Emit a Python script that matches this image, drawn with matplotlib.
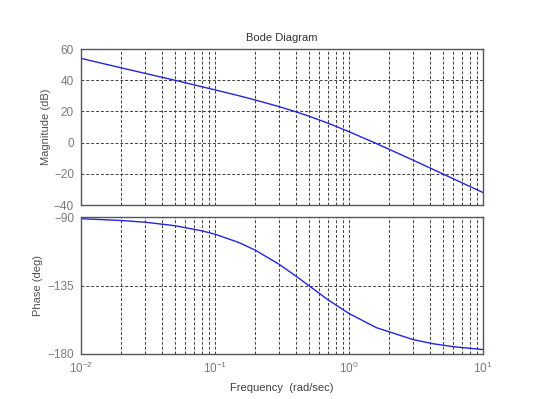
import numpy as np
import matplotlib.pyplot as plt

plt.rcParams['font.family'] = ['Liberation Sans', 'DejaVu Sans']
plt.rcParams['mathtext.fontset'] = 'custom'
plt.rcParams['mathtext.rm'] = 'Liberation Sans'

# frequency points (rad/sec) and values
freq = [0.01, 0.02, 0.03, 0.05, 0.08, 0.1, 0.15, 0.2, 0.3, 0.4, 0.5,
        0.7, 1.0, 1.6, 3.0, 4.2, 6.0, 10.0]
mag_db = [54.0, 47.9, 44.4, 40.0, 35.8, 33.8, 30.1, 27.3, 23.1, 19.8, 17.0,
          12.4, 7.0, -0.6, -11.2, -17.0, -23.2, -32.0]
phase_deg = [-91.1, -92.3, -93.4, -95.7, -99.1, -101.3, -106.7, -111.8, -121.0,
             -128.7, -135.0, -144.5, -153.4, -162.7, -170.5, -173.2, -175.2, -177.1]

mag_ticks = [-40, -20, 0, 20, 40, 60]
phase_ticks = [-180, -135, -90]

tickc = '#7a7a7a'
labc = '#505050'
gridc = '#404040'

fig = plt.figure(figsize=(5.33, 3.99), dpi=100)
ax1 = fig.add_axes([81/533, 1-205/399, 402/533, 156/399])
ax2 = fig.add_axes([81/533, 1-354/399, 402/533, 137/399])

for ax in (ax1, ax2):
    ax.set_xscale('log')
    ax.set_xlim(0.01, 10)
    ax.grid(True, which='both', axis='x', ls=(0, (3, 2)), color=gridc, lw=0.7)
    ax.grid(True, which='major', axis='y', ls=(0, (3, 2)), color=gridc, lw=0.7)
    for s in ax.spines.values():
        s.set_color('#555555')
        s.set_linewidth(1.0)
    ax.tick_params(which='both', direction='in', colors=tickc, labelsize=8.5,
                   length=0, pad=5)

ax1.plot(freq, mag_db, color='#2424dc', lw=1.0)
ax1.set_ylim(-40, 60)
ax1.set_yticks(mag_ticks)
ax1.tick_params(axis='x', which='both', labelbottom=False)
ax1.set_ylabel('Magnitude (dB)', color=labc, fontsize=8, labelpad=2)
ax1.set_title('Bode Diagram', fontsize=8, color='#333333', pad=6)

ax2.plot(freq, phase_deg, color='#2424dc', lw=1.0)
ax2.set_ylim(-180, -90)
ax2.set_yticks(phase_ticks)
ax2.set_ylabel('Phase (deg)', color=labc, fontsize=8, labelpad=3)
ax2.set_xlabel('Frequency  (rad/sec)', color='#404040', fontsize=8, labelpad=5)

fig.savefig('out.png', dpi=100)
